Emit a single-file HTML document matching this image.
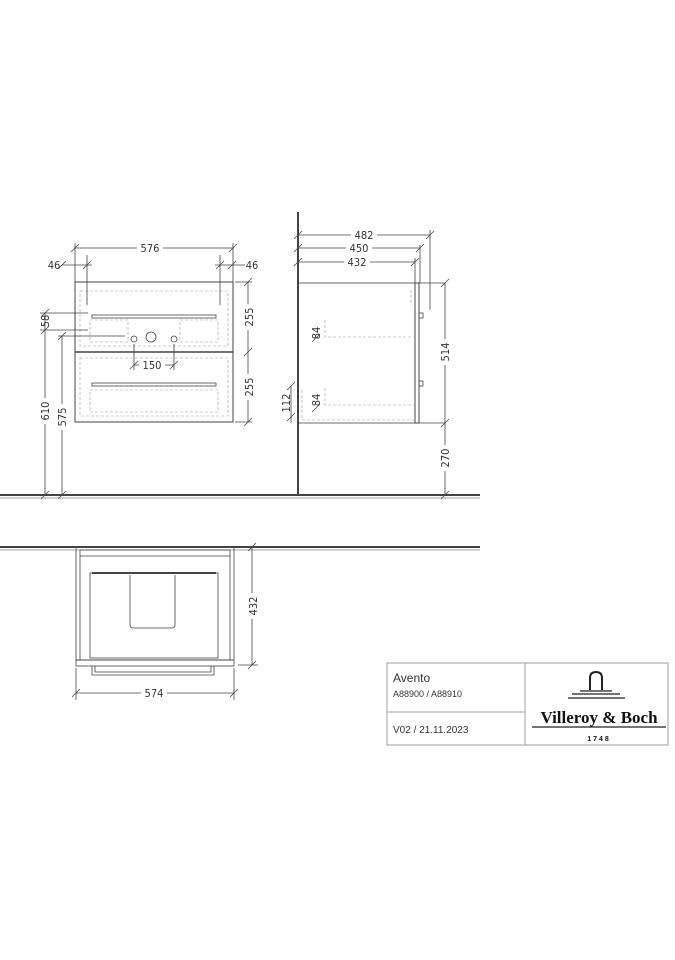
<!DOCTYPE html>
<html><head><meta charset="utf-8"><style>body{margin:0;background:#fff}svg{display:block}text{font-family:"DejaVu Sans Condensed","DejaVu Sans",sans-serif;fill:#333}</style></head><body>
<svg width="675" height="960" viewBox="0 0 675 960" xmlns="http://www.w3.org/2000/svg">
<g stroke="#444" stroke-width="0.8" fill="none">
<line x1="0" y1="495" x2="480" y2="495" stroke-width="2"/>
<line x1="0" y1="498" x2="480" y2="498" stroke-width="0.6"/>
<rect x="75" y="282" width="158" height="140" stroke-width="1"/>
<line x1="75" y1="352" x2="233" y2="352" stroke-width="1.5"/>
<g stroke="#999" stroke-dasharray="3,2" stroke-width="0.6">
<rect x="80" y="291" width="148" height="55"/>
<rect x="90" y="320" width="38" height="22"/>
<rect x="180" y="320" width="38" height="22"/>
<rect x="80" y="358" width="148" height="58"/>
<rect x="90" y="390" width="128" height="22"/>
</g>
<rect x="92" y="315" width="124" height="3"/>
<rect x="92" y="383" width="124" height="3"/>
<circle cx="151" cy="337" r="5"/><circle cx="134" cy="339" r="3"/><circle cx="174" cy="339" r="3"/>
<line x1="75" y1="248" x2="233" y2="248"/><line x1="75" y1="243" x2="75" y2="282"/><line x1="233" y1="243" x2="233" y2="282"/>
<line x1="87" y1="255" x2="87" y2="305"/><line x1="220" y1="255" x2="220" y2="305"/>
<line x1="62" y1="265" x2="92" y2="265"/><line x1="215" y1="265" x2="245" y2="265"/>
<line x1="235" y1="282" x2="252" y2="282"/><line x1="235" y1="422" x2="252" y2="422"/>
<line x1="248" y1="282" x2="248" y2="422"/>
<line x1="40" y1="313" x2="88" y2="313"/><line x1="40" y1="330" x2="88" y2="330"/>
<line x1="45" y1="313" x2="45" y2="495"/><line x1="62" y1="336" x2="62" y2="495"/>
<line x1="58" y1="336" x2="125" y2="336"/>
<line x1="134" y1="344" x2="134" y2="370"/><line x1="174" y1="344" x2="174" y2="370"/><line x1="134" y1="365" x2="174" y2="365"/>
<path d="M71 252l8-8M229 252l8-8M58 269l8-8M83 269l8-8M216 269l8-8M228 269l8-8M244 286l8-8M244 356l8-8M244 426l8-8M41 317l8-8M41 334l8-8M41 499l8-8M58 340l8-8M58 499l8-8M130 369l8-8M170 369l8-8"/>
<line x1="298" y1="212" x2="298" y2="495" stroke-width="2"/>
<rect x="298" y="283" width="117" height="140" stroke-width="0.8"/>
<rect x="415" y="283" width="4" height="140" stroke-width="1"/>
<line x1="419" y1="283" x2="445" y2="283"/><line x1="419" y1="423" x2="445" y2="423"/>
<line x1="445" y1="283" x2="445" y2="495"/>
<line x1="298" y1="235" x2="430" y2="235"/><line x1="298" y1="248" x2="420" y2="248"/><line x1="298" y1="262" x2="415" y2="262"/>
<line x1="430" y1="230" x2="430" y2="310"/><line x1="420" y1="245" x2="420" y2="283"/><line x1="415" y1="258" x2="415" y2="283"/>
<path d="M294 239l8-8M294 252l8-8M294 266l8-8M426 239l8-8M416 252l8-8M411 266l8-8M441 287l8-8M441 427l8-8M441 499l8-8M312 342l8-8M312 412l8-8M287 390l8-8M287 421l8-8"/>
<line x1="291" y1="386" x2="291" y2="423"/>
<rect x="419" y="313" width="4" height="5"/><rect x="419" y="381" width="4" height="5"/>
<g stroke="#999" stroke-dasharray="3,2" stroke-width="0.6">
<path d="M325 320v17h90M325 388v17h90M302 390v30h113M411 290v16"/>
</g>
<line x1="0" y1="547" x2="480" y2="547" stroke-width="2"/>
<line x1="0" y1="550" x2="480" y2="550" stroke-width="0.6"/>
<rect x="76" y="547" width="158" height="113"/>
<rect x="80" y="550" width="150" height="110"/>
<line x1="80" y1="556" x2="230" y2="556"/>
<rect x="90" y="573" width="128" height="85"/>
<line x1="92" y1="573" x2="216" y2="573" stroke-width="2"/>
<path d="M130 575v50q0 3 3 3h39q3 0 3-3v-50"/>
<rect x="76" y="660" width="158" height="6"/>
<path d="M92 666v9h122v-9M95 666v6h116v-6"/>
<line x1="76" y1="668" x2="76" y2="700"/><line x1="234" y1="668" x2="234" y2="700"/>
<line x1="76" y1="693" x2="234" y2="693"/>
<line x1="238" y1="547" x2="258" y2="547"/><line x1="238" y1="665" x2="258" y2="665"/>
<line x1="252" y1="547" x2="252" y2="665"/>
<path d="M72 697l8-8M230 697l8-8M248 551l8-8M248 669l8-8"/>
<rect x="387" y="663" width="281" height="82" stroke="#888"/>
<line x1="525" y1="663" x2="525" y2="745" stroke="#888"/>
<line x1="387" y1="712" x2="525" y2="712" stroke="#888"/>
<path d="M590 690v-12q0-6 6-6t6 6v12" stroke="#222" stroke-width="2"/>
<path d="M580 691h32M572 694h48M568 698h57" stroke="#222" stroke-width="1.2"/>
<line x1="532" y1="727" x2="666" y2="727" stroke="#222" stroke-width="1.2"/>
</g>
<g font-size="11">
<rect x="137" y="242" width="26" height="12" fill="#fff"/><text x="150" y="252" text-anchor="middle">576</text>
<text x="54" y="269" text-anchor="middle">46</text><text x="252" y="269" text-anchor="middle">46</text>
<rect x="139" y="359" width="26" height="12" fill="#fff"/><text x="152" y="369" text-anchor="middle">150</text>
<g transform="rotate(-90)">
<rect x="-330" y="244" width="26" height="10" fill="#fff"/><text x="-317" y="253" text-anchor="middle">255</text>
<rect x="-400" y="244" width="26" height="10" fill="#fff"/><text x="-387" y="253" text-anchor="middle">255</text>
<text x="-321" y="49" text-anchor="middle">58</text>
<rect x="-424" y="40" width="26" height="10" fill="#fff"/><text x="-411" y="49" text-anchor="middle">610</text>
<rect x="-430" y="57" width="26" height="10" fill="#fff"/><text x="-417" y="66" text-anchor="middle">575</text>
<rect x="-365" y="440" width="26" height="10" fill="#fff"/><text x="-352" y="449" text-anchor="middle">514</text>
<rect x="-471" y="440" width="26" height="10" fill="#fff"/><text x="-458" y="449" text-anchor="middle">270</text>
<text x="-333" y="320" text-anchor="middle">84</text><text x="-400" y="320" text-anchor="middle">84</text>
<text x="-403" y="290" text-anchor="middle">112</text>
<rect x="-619" y="248" width="26" height="10" fill="#fff"/><text x="-606" y="257" text-anchor="middle">432</text>
</g>
<rect x="351" y="229" width="26" height="12" fill="#fff"/><text x="364" y="239" text-anchor="middle">482</text>
<rect x="346" y="242" width="26" height="12" fill="#fff"/><text x="359" y="252" text-anchor="middle">450</text>
<rect x="344" y="256" width="26" height="12" fill="#fff"/><text x="357" y="266" text-anchor="middle">432</text>
<rect x="141" y="687" width="26" height="12" fill="#fff"/><text x="154" y="697" text-anchor="middle">574</text>
</g>
<text x="393" y="682" font-size="12" style="font-family:'Liberation Sans',sans-serif">Avento</text>
<text x="393" y="697" font-size="9" style="font-family:'Liberation Sans',sans-serif">A88900 / A88910</text>
<text x="393" y="733" font-size="10" style="font-family:'Liberation Sans',sans-serif">V02 / 21.11.2023</text>
<text x="599" y="723" font-size="17" font-weight="bold" text-anchor="middle" style="font-family:'Liberation Serif',serif;fill:#111">Villeroy &amp; Boch</text>
<text x="599" y="741" font-size="7" text-anchor="middle" font-weight="bold" style="font-family:'Liberation Sans',sans-serif;letter-spacing:2px;fill:#111">1748</text>
</svg>
</body></html>
